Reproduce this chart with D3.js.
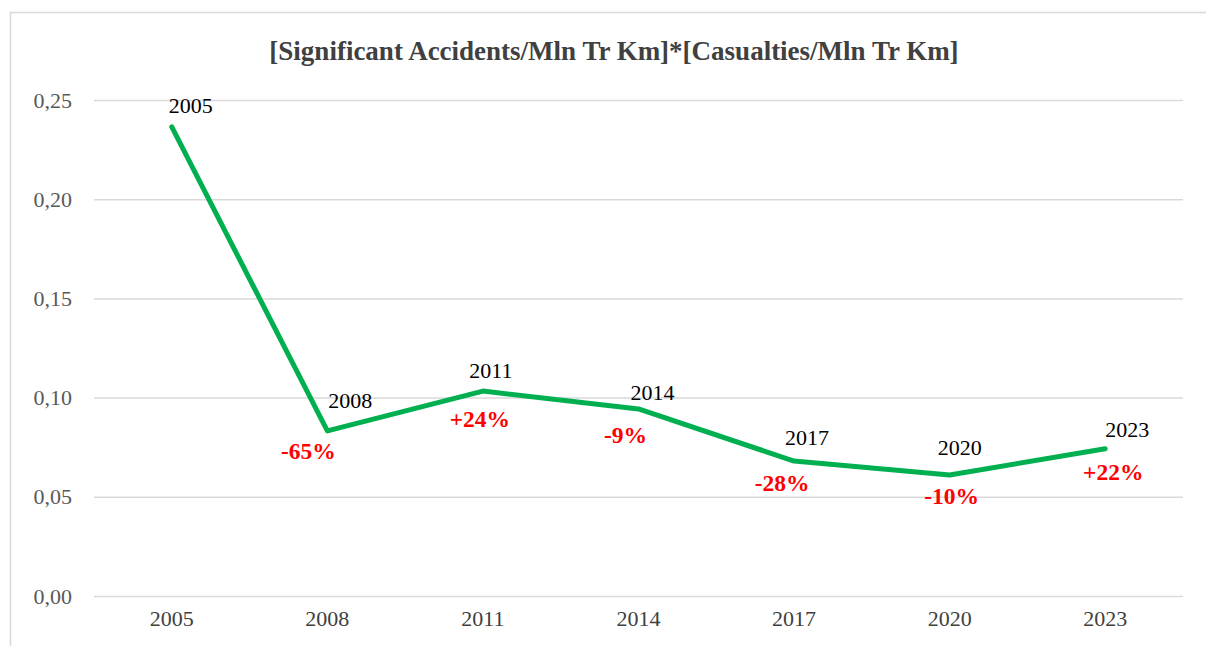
<!DOCTYPE html>
<html>
<head>
<meta charset="utf-8">
<script src="https://cdn.jsdelivr.net/npm/d3@7"></script>
<style>
  body { margin: 0; background: #fff; }
  svg { display: block; }
  text { font-family: "Liberation Serif", "Times New Roman", serif; }
</style>
</head>
<body>
<div id="chart"></div>
<script>
// chart values
const years = ["2005", "2008", "2011", "2014", "2017", "2020", "2023"];
const values = [0.2364, 0.0832, 0.1033, 0.0943, 0.0680, 0.0610, 0.0742];
const changes = [null, "-65%", "+24%", "-9%", "-28%", "-10%", "+22%"];
const yTicks = [0, 0.05, 0.10, 0.15, 0.20, 0.25];
const titleText = "[Significant Accidents/Mln Tr Km]*[Casualties/Mln Tr Km]";

// hand placed label offsets (dx, dy from the point)
const yearLabelOffset = [[19, -14], [23, -23], [8, -13], [14, -9], [13, -16], [10, -20], [22, -12]];
const changeLabelOffset = [null, [-19, 28], [-3, 36], [-13, 34], [-12, 30], [2, 29], [8, 31]];

const W = 1206, H = 646;
const margin = { top: 100, right: 23, bottom: 50, left: 94 };
const width = W - margin.left - margin.right,
      height = H - margin.top - margin.bottom;

const svg = d3.select("#chart")
  .append("svg")
  .attr("width", W)
  .attr("height", H);

// chart area border
svg.append("rect")
  .attr("x", 10.5).attr("y", 12.5)
  .attr("width", W + 20).attr("height", H + 20)
  .attr("fill", "none")
  .attr("stroke", "#d9d9d9")
  .attr("stroke-width", 1.5);

svg.append("text")
  .attr("x", 614).attr("y", 60)
  .attr("text-anchor", "middle")
  .attr("font-size", "27px")
  .attr("font-weight", "bold")
  .attr("fill", "#404040")
  .text(titleText);

const g = svg.append("g")
  .attr("transform", `translate(${margin.left},${margin.top})`);

const x = d3.scaleBand()
  .domain(years)
  .range([0, width]);

const y = d3.scaleLinear()
  .domain([0, 0.25])
  .range([height, 0]);

// gridlines + y labels
const yAxis = g.append("g")
  .call(d3.axisLeft(y).tickValues(yTicks).tickSize(-width).tickPadding(22)
    .tickFormat(d => d3.format(".2f")(d).replace(".", ",")));
yAxis.select(".domain").remove();
yAxis.selectAll(".tick line").attr("stroke", "#d9d9d9").attr("stroke-width", 1.5);
yAxis.selectAll(".tick text")
  .attr("font-size", "22px")
  .attr("fill", "#595959")
  .attr("font-family", "Liberation Serif, serif");

// x labels
const xAxis = g.append("g")
  .attr("transform", `translate(0,${height})`)
  .call(d3.axisBottom(x).tickSize(0).tickPadding(14));
xAxis.select(".domain").remove();
xAxis.selectAll(".tick text")
  .attr("font-size", "22px")
  .attr("fill", "#404040")
  .attr("font-family", "Liberation Serif, serif");

const cx = d => x(d) + x.bandwidth() / 2;

const line = d3.line()
  .x((d, i) => cx(years[i]))
  .y(d => y(d));

g.append("path")
  .datum(values)
  .attr("fill", "none")
  .attr("stroke", "#00b050")
  .attr("stroke-width", 5)
  .attr("stroke-linejoin", "round")
  .attr("stroke-linecap", "round")
  .attr("d", line);

// year labels
g.selectAll(".yr")
  .data(values)
  .join("text")
  .attr("class", "yr")
  .attr("x", (d, i) => cx(years[i]) + yearLabelOffset[i][0])
  .attr("y", (d, i) => y(d) + yearLabelOffset[i][1])
  .attr("text-anchor", "middle")
  .attr("font-size", "22px")
  .attr("fill", "#000")
  .text((d, i) => years[i]);

// change labels
g.selectAll(".chg")
  .data(values.map((v, i) => ({ v, i })).filter(d => changes[d.i]))
  .join("text")
  .attr("class", "chg")
  .attr("x", d => cx(years[d.i]) + changeLabelOffset[d.i][0])
  .attr("y", d => y(d.v) + changeLabelOffset[d.i][1])
  .attr("text-anchor", "middle")
  .attr("font-size", "23.5px")
  .attr("font-weight", "bold")
  .attr("fill", "#ff0000")
  .text(d => changes[d.i]);
</script>
</body>
</html>
